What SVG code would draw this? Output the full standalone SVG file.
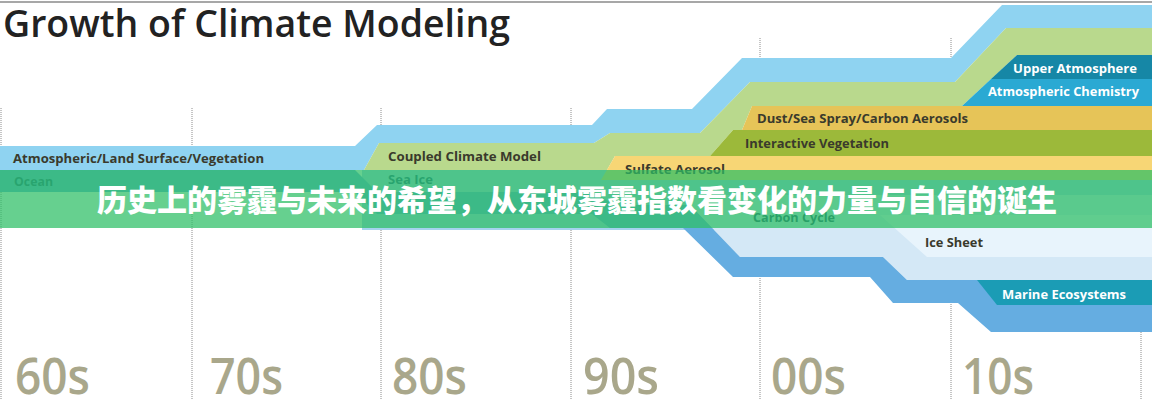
<svg xmlns="http://www.w3.org/2000/svg" width="1152" height="400" viewBox="0 0 1152 400">
<style>
.div{stroke:#8c8c8c;stroke-width:1;stroke-dasharray:1 1;fill:none}
.lbl{font-family:"Open Sans","Liberation Sans",sans-serif;font-weight:700;font-size:12.5px;fill:#3a3a2c}
.wl{font-family:"Open Sans","Liberation Sans",sans-serif;font-weight:700;font-size:12.5px;fill:#ffffff}
.hid{font-family:"Open Sans","Liberation Sans",sans-serif;font-weight:700;font-size:12.5px;fill:#1d5f8a}
.dec{font-family:"Open Sans","Liberation Sans",sans-serif;font-weight:600;font-size:50px;fill:#a9a78b}
</style>
<rect width="1152" height="400" fill="#ffffff"/>
<line x1="0" y1="2" x2="1152" y2="2" stroke="#8a8a8a" stroke-width="1.5"/>
<text x="3" y="37" font-family="'Open Sans','Liberation Sans',sans-serif" font-weight="600" font-size="38" fill="#222222" textLength="507" lengthAdjust="spacingAndGlyphs">Growth of Climate Modeling</text>
<g id="dividers">
<line class="div" x1="1" y1="108" x2="1" y2="400"/>
<line class="div" x1="192" y1="108" x2="192" y2="400"/>
<line class="div" x1="381" y1="108" x2="381" y2="400"/>
<line class="div" x1="571" y1="108" x2="571" y2="400"/>
<line class="div" x1="760" y1="38" x2="760" y2="400"/>
<line class="div" x1="951" y1="38" x2="951" y2="400"/>
<line class="div" x1="1141" y1="38" x2="1141" y2="400"/>
</g>
<g id="band-sea-ice">
<polygon points="362,170 1152,170 1152,230 362,230" fill="#a5d3ef"/>
<text class="hid" x="388" y="184" textLength="45" lengthAdjust="spacingAndGlyphs">Sea Ice</text>
</g>
<g id="band-carbon-cycle">
<polygon points="680,195 1152,195 1152,280 907,280 883,257 740,257" fill="#d4e8f6"/>
<text class="hid" x="753" y="222" fill="#1f4f6f" textLength="82" lengthAdjust="spacingAndGlyphs" style="fill:#1f4f6f">Carbon Cycle</text>
</g>
<g id="band-ocean">
<polygon points="0,170 355,170 377,192 592,192 615,205 690,205 740,257 883,257 907,280 1152,280 1152,332 991,332 958,303 893,303 870,277 733,277 683,228 610,228 592,214 377,214 355,192 0,192" fill="#65ade1"/>
<text class="hid" x="14" y="186" textLength="39" lengthAdjust="spacingAndGlyphs">Ocean</text>
</g>
<g id="band-ice-sheet">
<polygon points="880,215 1152,215 1152,257 927,257" fill="#e8f4fc"/>
<text class="lbl" x="925" y="247" textLength="58" lengthAdjust="spacingAndGlyphs">Ice Sheet</text>
</g>
<g id="band-marine">
<polygon points="977,280 1152,280 1152,305 997,305" fill="#1b9cb5"/>
<text class="wl" x="1002" y="299" textLength="124" lengthAdjust="spacingAndGlyphs">Marine Ecosystems</text>
</g>
<g id="band-atmosphere">
<polygon points="0,146 355,146 377,125 592,125 607,109 692,109 742,58 951,58 1002,5 1152,5 1152,28 1006,28 955,82 750,82 700,133 610,133 594,143 379,143 364,170 0,170" fill="#8fd3f1"/>
<text class="lbl" x="13" y="162.5" textLength="251" lengthAdjust="spacingAndGlyphs">Atmospheric/Land Surface/Vegetation</text>
</g>
<g id="band-coupled">
<polygon points="364,170 379,143 594,143 610,133 700,133 750,82 955,82 1006,28 1152,28 1152,55 1017,55 962,106 752,106 742,130 733,130 710,156 615,156 607,170" fill="#b9d98d"/>
<text class="lbl" x="388" y="161" textLength="153" lengthAdjust="spacingAndGlyphs">Coupled Climate Model</text>
</g>
<g id="band-sulfate">
<polygon points="615,156 1152,156 1152,180 601,180" fill="#f7d675"/>
<text class="lbl" x="625" y="174" textLength="100" lengthAdjust="spacingAndGlyphs">Sulfate Aerosol</text>
</g>
<g id="band-interactive">
<polygon points="733,130 1152,130 1152,156 710,156" fill="#9cb93a"/>
<text class="lbl" x="745" y="148" textLength="144" lengthAdjust="spacingAndGlyphs">Interactive Vegetation</text>
</g>
<g id="band-dust">
<polygon points="752,106 1152,106 1152,130 742,130" fill="#e6c458"/>
<text class="lbl" x="757" y="123" textLength="211" lengthAdjust="spacingAndGlyphs">Dust/Sea Spray/Carbon Aerosols</text>
</g>
<g id="band-chemistry">
<polygon points="991,79 1152,79 1152,106 962,106" fill="#2aa9d3"/>
<text class="wl" x="988" y="96" textLength="151" lengthAdjust="spacingAndGlyphs">Atmospheric Chemistry</text>
</g>
<g id="band-upper">
<polygon points="1017,55 1152,55 1152,79 991,79" fill="#1687a6"/>
<text class="wl" x="1013" y="73" textLength="124" lengthAdjust="spacingAndGlyphs">Upper Atmosphere</text>
</g>
<g id="decades">
<text class="dec" x="15" y="394" textLength="75" lengthAdjust="spacingAndGlyphs">60s</text>
<text class="dec" x="210" y="394" textLength="73" lengthAdjust="spacingAndGlyphs">70s</text>
<text class="dec" x="392" y="394" textLength="75" lengthAdjust="spacingAndGlyphs">80s</text>
<text class="dec" x="583" y="394" textLength="76" lengthAdjust="spacingAndGlyphs">90s</text>
<text class="dec" x="771" y="394" textLength="75" lengthAdjust="spacingAndGlyphs">00s</text>
<text class="dec" x="962" y="394" textLength="72" lengthAdjust="spacingAndGlyphs">10s</text>
</g>
<g id="banner">
<rect x="0" y="170" width="1152" height="58" fill="#2dbe65" fill-opacity="0.73"/>
<text x="577" y="211" text-anchor="middle" font-family="'Noto Sans CJK SC',sans-serif" font-weight="900" font-size="30" fill="#ffffff">历史上的雾霾与未来的希望，从东城雾霾指数看变化的力量与自信的诞生</text>
</g>
</svg>
